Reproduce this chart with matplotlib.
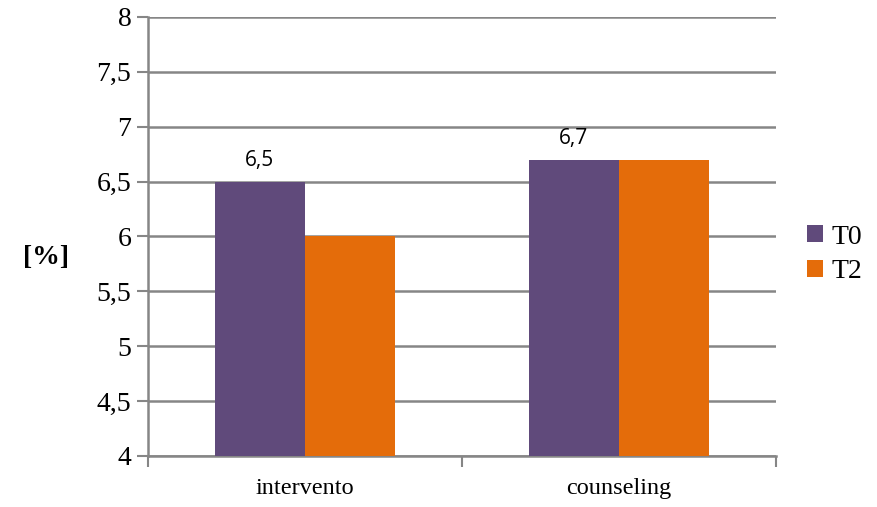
import matplotlib.pyplot as plt
import numpy as np

categories = ["intervento", "counseling"]
series_names = ["T0", "T2"]
t0_values = [6.5, 6.7]
t2_values = [6.0, 6.7]
t0_labels = ["6,5", "6,7"]
y_ticks = [4, 4.5, 5, 5.5, 6, 6.5, 7, 7.5, 8]
y_tick_labels = ["4", "4,5", "5", "5,5", "6", "6,5", "7", "7,5", "8"]

purple = "#604A7B"
orange = "#E46C0A"
grid_col = "#868686"

fig = plt.figure(figsize=(8.77, 5.07), dpi=100)
ax = fig.add_axes([0.1688, 0.1006, 0.716, 0.866])

x = np.arange(len(categories))
w = 0.287
b0 = ax.bar(x - w / 2, np.array(t0_values) - 4, w, bottom=4, color=purple, label=series_names[0], zorder=3)
b2 = ax.bar(x + w / 2, np.array(t2_values) - 4, w, bottom=4, color=orange, label=series_names[1], zorder=3)

# data labels on T0 only
for rect, lab in zip(b0, t0_labels):
    ax.text(rect.get_x() + rect.get_width() / 2, rect.get_y() + rect.get_height() + 0.1, lab,
            ha="center", va="bottom", fontsize=15, family="Open Sans", color="#000000")

ax.set_ylim(4, 8)
ax.set_xlim(-0.5, 1.5)
ax.set_yticks(y_ticks)
ax.set_yticklabels(y_tick_labels, family="Liberation Serif", fontsize=20)
ax.set_xticks([-0.5, 0.5, 1.5], minor=False)
ax.set_xticklabels([])
ax.set_xticks(x, minor=True)
ax.set_xticklabels(categories, minor=True, family="Liberation Serif", fontsize=17.5)
ax.tick_params(axis="x", which="minor", length=0, pad=16)
ax.tick_params(axis="x", which="major", length=8, width=1.5, color=grid_col)
ax.tick_params(axis="y", length=8, width=1.5, color=grid_col, pad=4)

ax.grid(axis="y", color=grid_col, linewidth=1.8, zorder=0)
ax.set_axisbelow(True)
for s in ["top", "right"]:
    ax.spines[s].set_visible(False)
for s in ["left", "bottom"]:
    ax.spines[s].set_color(grid_col)
    ax.spines[s].set_linewidth(1.8)

fig.text(0.053, 0.493, "[%]", ha="center", va="center", fontsize=20,
         fontweight="bold", family="Liberation Serif")

leg = ax.legend(loc="center left", bbox_to_anchor=(1.0, 0.459), frameon=False,
                prop={"family": "Liberation Serif", "size": 20},
                handlelength=0.58, handleheight=0.58, handletextpad=0.32,
                labelspacing=0.35, borderaxespad=0.7)

fig.savefig("out.png", dpi=100)
